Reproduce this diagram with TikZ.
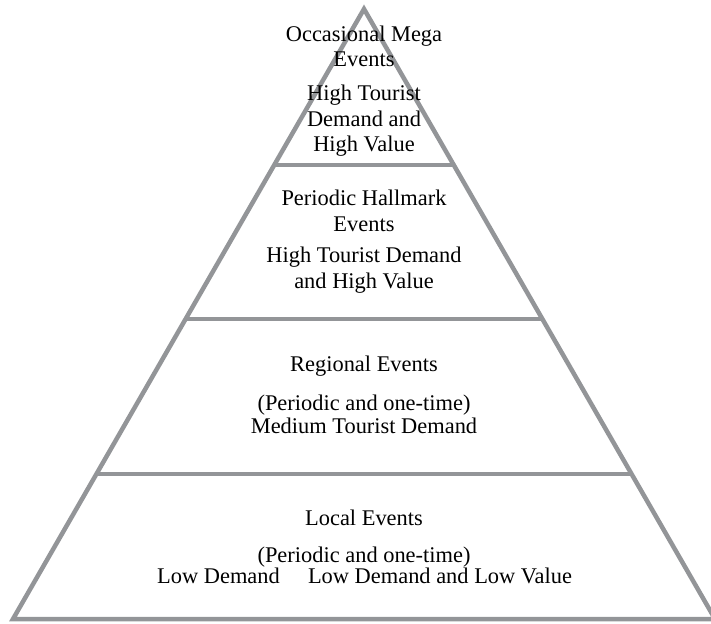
\documentclass[tikz,border=0pt]{standalone}
\usepackage{fontspec}
\setmainfont{Liberation Serif}
\usetikzlibrary{calc}

\definecolor{pyrgray}{RGB}{147,149,152}

\begin{document}
\begin{tikzpicture}[
    x=1bp, y=-1bp,
    side/.style={draw=pyrgray,line width=4.5bp,line join=miter},
    tier/.style={
        anchor=base,inner sep=0pt,align=center,
        font=\fontsize{22.5}{26}\selectfont
    }
]
    \useasboundingbox (0,0) rectangle (711,624);

    % outline of the pyramid
    \coordinate (apex) at (364,9);
    \coordinate (baseL) at (13,619);
    \coordinate (baseR) at (715,619);
    \draw [side] (baseL) -- (apex) -- (baseR) -- cycle;

    % separators between the tiers
    \foreach \t/\name in {0.2557/one,0.5082/two,0.7623/three} {
        \coordinate (\name L) at ($(apex)!\t!(baseL)$);
        \coordinate (\name R) at ($(apex)!\t!(baseR)$);
        \draw [side] (\name L) -- (\name R);
    }

    % top tier (base = last line)
    \node (mega) [tier] at (364,67) {Occasional Mega\\Events};
    \node (megaval) [tier] at (364,152) {High Tourist\\Demand and\\High Value};

    % second tier
    \node (hallmark) [tier] at (364,231) {Periodic Hallmark\\Events};
    \node (hallmarkval) [tier] at (364,288) {High Tourist Demand\\and High Value};

    % third tier
    \node (regional) [tier] at (364,371) {Regional Events};
    \node (regionalval) [tier] at (364,433)
        {(Periodic and one-time)\\[-3bp]Medium Tourist Demand};

    % bottom tier
    \node (local) [tier] at (364,525) {Local Events};
    \node (localkind) [tier] at (364,562) {(Periodic and one-time)};
    \node (lowdemand) [tier] at (218.5,583) {Low Demand};
    \node (lowvalue) [tier] at (440,583) {Low Demand and Low Value};
\end{tikzpicture}
\end{document}
